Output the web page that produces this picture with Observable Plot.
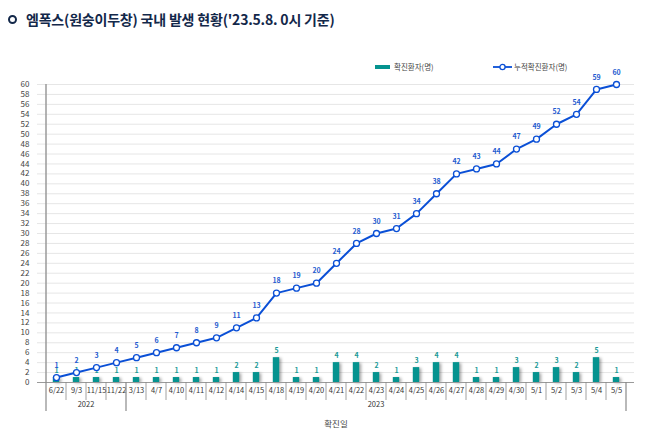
<!DOCTYPE html>
<html><head><meta charset="utf-8">
<script src="https://cdn.jsdelivr.net/npm/d3@7"></script>
<script src="https://cdn.jsdelivr.net/npm/@observablehq/plot@0.6"></script>
<style>
body{margin:0;background:#fff;font-family:"Noto Sans CJK KR","Noto Sans",sans-serif;}
#wrap{position:relative;width:658px;height:439px;}
#title{position:absolute;left:8px;top:9px;font-size:14px;font-weight:bold;color:#13284a;letter-spacing:-0.2px;display:flex;align-items:center;}
#title .dot{width:5px;height:5px;border:2px solid #13284a;border-radius:50%;margin-right:9px;}
.leg{position:absolute;top:61px;font-size:7.5px;color:#444;display:flex;align-items:center;}
svg g[aria-label="bar"]{filter:drop-shadow(2px 1px 1.5px rgba(0,0,0,0.35));}
</style></head>
<body><div id="wrap">
<div id="title"><span class="dot"></span>엠폭스(원숭이두창) 국내 발생 현황('23.5.8. 0시 기준)</div>
<div class="leg" style="left:375px"><span style="display:inline-block;width:15px;height:4px;background:#05938f;margin-right:4px"></span>확진환자(명)</div>
<div class="leg" style="left:493px"><svg width="19" height="8" style="margin-right:2px"><line x1="0" y1="4" x2="19" y2="4" stroke="#0a4fd6" stroke-width="1.8"/><circle cx="9.5" cy="4" r="2.6" fill="#fff" stroke="#0a4fd6" stroke-width="1.3"/></svg>누적확진환자(명)</div>
<div id="chart"></div>
</div>
<script>
const dates = ["6/22","9/3","11/15","11/22","3/13","4/7","4/10","4/11","4/12","4/14","4/15","4/18","4/19","4/20","4/21","4/22","4/23","4/24","4/25","4/26","4/27","4/28","4/29","4/30","5/1","5/2","5/3","5/4","5/5"];
const daily = [1,1,1,1,1,1,1,1,1,2,2,5,1,1,4,4,2,1,3,4,4,1,1,3,2,3,2,5,1];
const cumulative = [1,2,3,4,5,6,7,8,9,11,13,18,19,20,24,28,30,31,34,38,42,43,44,47,49,52,54,59,60];
const years = [{label:"2022", from:"6/22", to:"11/22"},{label:"2023", from:"3/13", to:"5/5"}];
const yTicks = d3.range(0, 61, 2);

const rows = dates.map((d,i)=>({date:d, daily:daily[i], cum:cumulative[i]}));
const teal = "#05938f", blue = "#0a4fd6";

const plot = Plot.plot({
  width: 658, height: 439,
  marginTop: 84, marginBottom: 57, marginLeft: 37, marginRight: 24,
  style: {fontFamily: "'Noto Sans CJK KR','Noto Sans',sans-serif", background: "transparent"},
  x: {type: "band", domain: dates, padding: 0, axis: null},
  y: {domain: [0, 60], axis: null},
  marks: [
    Plot.ruleY(yTicks.filter(t=>t>0), {y: d=>d, stroke: "#e6e6e6", strokeWidth: 1}),
    Plot.text(yTicks, {y: d=>d, text: d=>String(d), frameAnchor: "left", dx: -8, textAnchor: "end", fontSize: 8, fill: "#444"}),
    Plot.barY(rows, {x: "date", y: "daily", fill: teal, insetLeft: 6.8, insetRight: 6.8}),
    Plot.text(rows, {x: "date", y: "daily", text: d=>String(d.daily), dy: -7, fontSize: 7, fontWeight: "bold", fill: "#1a9a96"}),
    Plot.ruleY([0], {stroke: "#9a9a9a", strokeWidth: 1.2}),
    Plot.lineY(rows, {x: "date", y: "cum", stroke: blue, strokeWidth: 2}),
    Plot.dot(rows, {x: "date", y: "cum", r: 3, fill: "#fff", stroke: blue, strokeWidth: 1.3}),
    Plot.text(rows, {x: "date", y: "cum", text: d=>String(d.cum), dy: -12, fontSize: 7, fontWeight: "bold", fill: "#1f5cd0"}),
    Plot.text(dates, {x: d=>d, text: d=>d, frameAnchor: "bottom", dy: 10, fontSize: 7.5, fill: "#333"}),
    Plot.text(["확진일"], {frameAnchor: "bottom", dy: 44, text: d=>d, fontSize: 8.5, fill: "#444"})
  ]
});
document.getElementById("chart").appendChild(plot);

// separators, axis lines and year labels drawn with the plot's own x scale
const xs = plot.scale("x");
const bw = xs.bandwidth;
const svg = d3.select(plot);
const y0 = 439 - 57;
const g = svg.append("g");
dates.forEach((d, i) => {
  const left = xs.apply(d);
  const isYearEdge = i === 0 || years.some(y => y.from === d);
  g.append("line").attr("x1", left).attr("x2", left).attr("y1", y0).attr("y2", isYearEdge ? y0 + 29 : y0 + 18)
    .attr("stroke", "#8a8a8a").attr("stroke-width", isYearEdge ? 1.2 : 0.8);
});
const right = xs.apply(dates[dates.length-1]) + bw;
g.append("line").attr("x1", right).attr("x2", right).attr("y1", y0).attr("y2", y0 + 29).attr("stroke", "#8a8a8a").attr("stroke-width", 1.2);
const left0 = xs.apply(dates[0]);
g.append("line").attr("x1", left0).attr("x2", left0).attr("y1", 84).attr("y2", y0).attr("stroke", "#9a9a9a").attr("stroke-width", 1.5);
years.forEach(yr => {
  const a = xs.apply(yr.from), b = xs.apply(yr.to) + bw;
  g.append("text").attr("x", (a + b) / 2).attr("y", y0 + 25).attr("text-anchor", "middle")
    .attr("font-size", 7.5).attr("fill", "#333").attr("font-family", "'Noto Sans CJK KR','Noto Sans',sans-serif").text(yr.label);
});
</script>
</body></html>
